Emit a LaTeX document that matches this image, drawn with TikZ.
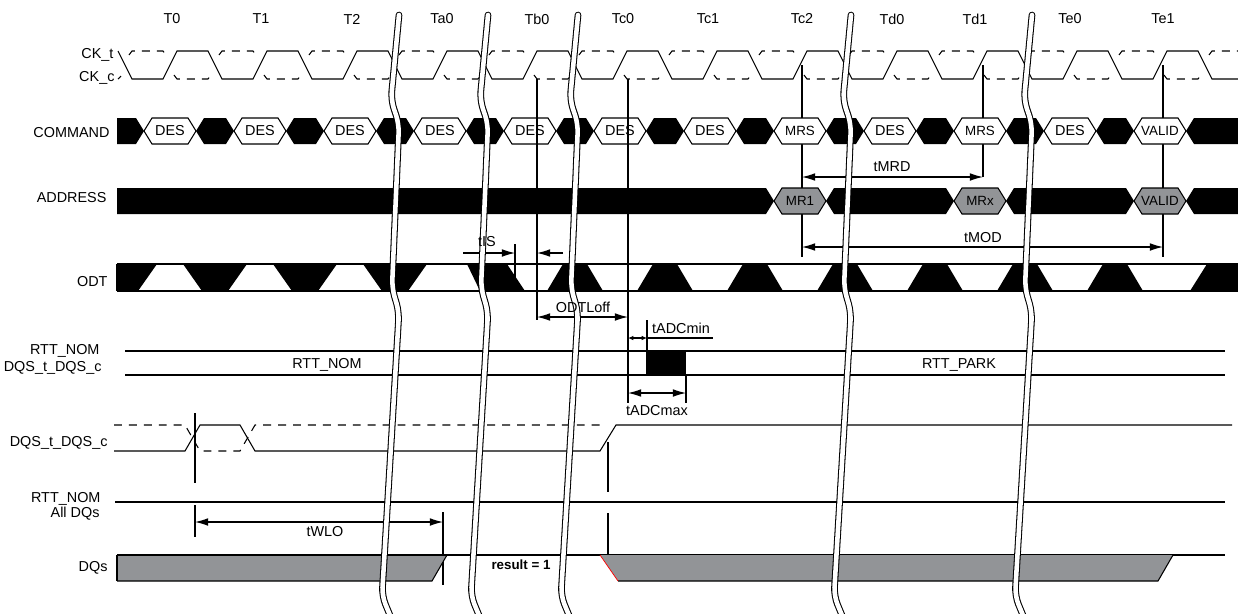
\documentclass[tikz,border=0pt]{standalone}
\usepackage{fontspec}
\setmainfont{Liberation Sans}
\usetikzlibrary{arrows.meta}

\definecolor{busgray}{RGB}{146,148,151}

\begin{document}
\begin{tikzpicture}[x=0.02cm, y=-0.02cm, line width=0.6pt,
    every node/.style={font=\fontsize{8.2}{9.5}\selectfont, inner sep=0pt},
    lbl/.style={anchor=east},
    norm/.style={},
    small/.style={font=\fontsize{7.6}{9}\selectfont},
    dsh/.style={dash pattern=on 4.5pt off 4pt},
    dim/.style={{Latex[length=7.5pt,width=4.4pt]}-{Latex[length=7.5pt,width=4.4pt]}},
    onedim/.style={-{Latex[length=7.5pt,width=4.4pt]}},
    tinydim/.style={{Latex[length=3pt,width=2.6pt]}-{Latex[length=3pt,width=2.6pt]}},
    hex/.style={draw, fill=white},
    brk/.style={draw=black, double=white, double distance=2.6pt, line width=0.6pt, rounded corners=5pt, line cap=round}]

  \useasboundingbox (0,0) rectangle (1238,613);

  % clock labels
  \foreach \n/\x in {T0/172,T1/261,T2/352,Ta0/442,Tb0/537,Tc0/623,Tc1/708,Tc2/802,Td0/892,Td1/975,Te0/1070,Te1/1163}
    \node (\n) at (\x,19) {\n};

  % signal names
  \node[lbl] (lCKt) at (114,55) {CK\_t};
  \node[lbl] (lCKc) at (115,78) {CK\_c};
  \node[lbl] (lCMD) at (110,133) {COMMAND};
  \node[lbl] (lADR) at (107,198) {ADDRESS};
  \node[lbl] (lODT) at (108,282) {ODT};
  \node[lbl] (lRTT1) at (100,351) {RTT\_NOM};
  \node[lbl] (lDQS1) at (102,368) {DQS\_t\_DQS\_c};
  \node[lbl] (lDQS2) at (108,443) {DQS\_t\_DQS\_c};
  \node[lbl] (lRTT2) at (101,499) {RTT\_NOM};
  \node[lbl] (lALL) at (100,514) {All DQs};
  \node[lbl] (lDQ) at (108,568) {DQs};

  % CK_t solid, CK_c dashed plateaus
  \draw (118,51) \foreach \k in {0,...,11}{ -- ({132+90*\k},79) -- ({163+90*\k},79) -- ({177+90*\k},51) -- ({208+90*\k},51) } -- (1212,79) -- (1238,79);
  \draw[dsh] (118,79) -- (121,76);
  \foreach \k in {0,...,11}
    \draw[dsh] ({129+90*\k},55) -- ({132+90*\k},51) -- ({163+90*\k},51) -- ({166+90*\k},55)
               ({174+90*\k},75) -- ({177+90*\k},79) -- ({208+90*\k},79) -- ({211+90*\k},75);
  \draw[dsh] (1209,55) -- (1212,51) -- (1238,51);

  % reference lines behind the bus values
  \coordinate (xTc2) at (802,65);
  \coordinate (xTd1) at (983,65);
  \coordinate (xTe1) at (1163,65);
  \draw (xTc2) -- (xTc2 |- 0,257);
  \draw (xTd1) -- (xTd1 |- 0,177);
  \draw (xTe1) -- (xTe1 |- 0,257);

  % COMMAND
  \fill (117,118) -- (136,118) -- (144,131) -- (136,144) -- (117,144) -- cycle;
  \foreach \k in {0,...,10}
    \fill ({196+90*\k},131) -- ({204+90*\k},118) -- ({226+90*\k},118) -- ({234+90*\k},131) -- ({226+90*\k},144) -- ({204+90*\k},144) -- cycle;
  \fill (1186,131) -- (1194,118) -- (1238,118) -- (1238,144) -- (1194,144) -- cycle;
  \foreach \t/\f [count=\k from 0] in {DES/norm,DES/norm,DES/norm,DES/norm,DES/norm,DES/norm,DES/norm,MRS/small,DES/norm,MRS/small,DES/norm,VALID/small} {
    \draw[hex] ({144+90*\k},131) -- ({152+90*\k},118) -- ({188+90*\k},118) -- ({196+90*\k},131) -- ({188+90*\k},144) -- ({152+90*\k},144) -- cycle;
    \node[\f] (cmd\k) at ({170+90*\k},131) {\t};
  }

  % ADDRESS
  \fill (117,188) -- (766,188) -- (774,201) -- (766,214) -- (117,214) -- cycle;
  \foreach \a in {826,1006}
    \fill (\a,201) -- ({\a+8},188) -- ({\a+120},188) -- ({\a+128},201) -- ({\a+120},214) -- ({\a+8},214) -- cycle;
  \fill (1186,201) -- (1194,188) -- (1238,188) -- (1238,214) -- (1194,214) -- cycle;
  \foreach \x/\t in {800/MR1,980/MRx,1160/VALID} {
    \draw[fill=busgray] ({\x-26},201) -- ({\x-18},188) -- ({\x+18},188) -- ({\x+26},201) -- ({\x+18},214) -- ({\x-18},214) -- cycle;
    \node[small] (adr\t) at (\x,201) {\t};
  }

  % Tb0 / Tc0 lines
  \coordinate (xTb) at (537,79);
  \coordinate (xTc) at (628,79);
  \draw (xTb) -- (xTb |- 0,320);
  \draw (xTc) -- (xTc |- 0,403);

  % tMRD, tMOD
  \draw[dim] (xTc2 |- 0,177) -- (xTd1 |- 0,177);
  \node (tmrd) at (892,167) {tMRD};
  \draw[dim] (xTc2 |- 0,247) -- (xTe1 |- 0,247);
  \node (tmod) at (983,238) {tMOD};

  % ODT
  \draw (117,264) -- (1238,264) (117,291) -- (1238,291) (117,264) -- (117,291);
  \fill (117,264) -- (157,264) -- (138,291) -- (117,291) -- cycle;
  \foreach \c in {215,305,395}
    \fill ({\c-32},264) -- ({\c+32},264) -- ({\c+13},291) -- ({\c-13},291) -- cycle;
  \fill (467,264) -- (507,264) -- (525,291) -- (480,291) -- cycle;
  \foreach \c in {575,665,...,1115}
    \fill ({\c-12},264) -- ({\c+12},264) -- ({\c+28},291) -- ({\c-28},291) -- cycle;
  \fill (1190,291) -- (1207,264) -- (1238,264) -- (1238,291) -- cycle;

  % tIS, ODTLoff
  \coordinate (xIS) at (515,244);
  \draw (xIS) -- (xIS |- 0,290);
  \draw[onedim] (463,253) -- (xIS |- 0,253);
  \draw[onedim] (563,253) -- (xTb |- 0,253);
  \draw[dim] (xTb |- 0,317) -- (xTc |- 0,317);

  % RTT_NOM / DQS_t_DQS_c termination
  \draw (125,351) -- (1225,351);
  \draw (125,375) -- (1225,375);
  \fill (646,351) rectangle (686,375);
  \node (rttnom) at (327,365) {RTT\_NOM};
  \node (rttpark) at (959,365) {RTT\_PARK};

  % tADCmin, tADCmax
  \draw[tinydim] (xTc |- 0,338) -- (647,338);
  \draw (647,320) -- (647,351);
  \draw (647,338) -- (713,338);
  \node (tadcmin) at (681,328) {tADCmin};
  \draw[dim] (xTc |- 0,393) -- (686,393);
  \draw (686,375) -- (686,403);
  \node (tadcmax) at (657,411) {tADCmax};

  % DQS_t_DQS_c strobe
  \draw (114,451) -- (185,451) -- (200,425) -- (240,425) -- (255,451) -- (600,451) -- (616,425) -- (1232,425);
  \draw[dsh] (114,425) -- (185,425) -- (200,451) -- (240,451) -- (255,425) -- (600,425);
  \coordinate (xWL) at (195,413);
  \coordinate (xDQ) at (608,442);
  \draw (xWL) -- (xWL |- 0,483);
  \draw (xDQ) -- (xDQ |- 0,492);
  \draw (xDQ |- 0,513) -- (xDQ |- 0,555);

  % RTT_NOM all DQs, tWLO
  \draw (115,502) -- (1225,502);
  \draw (xWL |- 0,505) -- (xWL |- 0,537);
  \draw (443,512) -- (443,585);
  \draw[dim] (xWL |- 0,522) -- (443,522);
  \node (twlo) at (325,532) {tWLO};

  % DQs
  \fill[busgray] (117,555) -- (447,555) -- (432,581) -- (117,581) -- cycle;
  \draw (117,555) -- (117,581);
  \draw (117,555) -- (1225,555);
  \draw (117,581) -- (432,581) -- (447,555);
  \fill[busgray] (600,555) -- (1173,555) -- (1158,581) -- (618,581) -- cycle;
  \draw (618,581) -- (1158,581) -- (1173,555);
  \draw[red, line width=0.4pt] (600,555) -- (618,581);
  \node[font=\fontsize{7.6}{9}\selectfont\bfseries] (res) at (521,565) {result = 1};

  % time breaks
  \foreach \x in {399,488,578,851,1032}
    \draw[brk] (\x,15) -- ({\x-8},100) -- (\x,124) -- ({\x-7},288) -- (\x,312) -- ({\x-17},596) -- ({\x-5},625);

  % labels lying over the breaks
  \node (tis) at (487,242) {tIS};
  \node (odtloff) at (583,307) {ODTLoff};
\end{tikzpicture}
\end{document}
